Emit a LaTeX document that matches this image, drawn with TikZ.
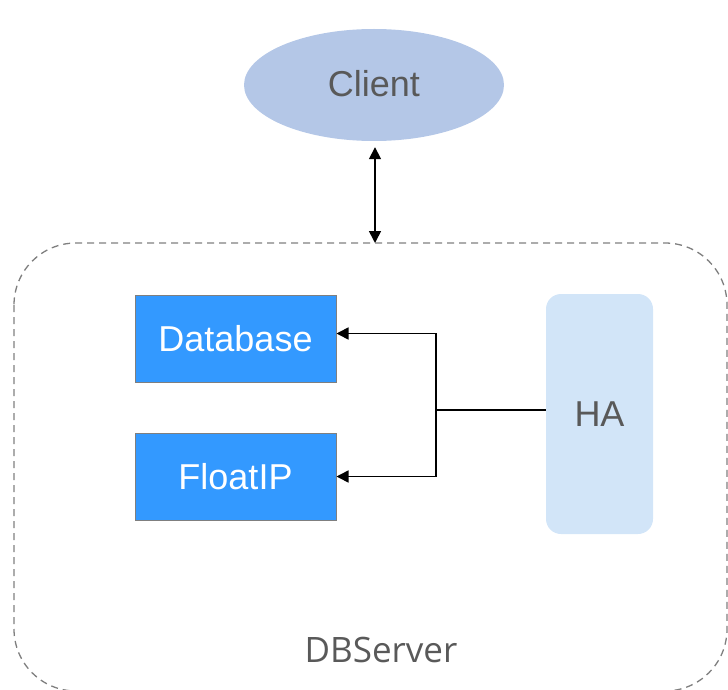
\documentclass[tikz,border=0pt]{standalone}
\usepackage{fontspec}
\setmainfont{Liberation Sans}
\newfontfamily\labelfont{Open Sans}
\usetikzlibrary{shapes.geometric,arrows.meta}
\definecolor{clientfill}{HTML}{B4C7E7}
\definecolor{txtgray}{HTML}{595959}
\definecolor{dbfill}{HTML}{3399FF}
\definecolor{hafill}{HTML}{D2E5F8}
\definecolor{dashgray}{HTML}{7F7F7F}
\begin{document}
\begin{tikzpicture}[x=1pt,y=-1pt,
  bigtext/.style={font=\fontsize{36}{40}\selectfont},
  bluebox/.style={draw=dashgray,line width=1pt,fill=dbfill,minimum width=201pt,minimum height=87pt,inner sep=0pt,text=white,bigtext},
  conn/.style={line width=1.6pt,draw=black},
  tip/.style={-{Triangle[width=12pt,length=12pt]}}
]
\useasboundingbox (0,0) rectangle (728,690);
\draw[dashgray,line width=1.3pt,dash pattern=on 7pt off 5pt,rounded corners=62pt] (14,243) rectangle (727,691);
\node[ellipse,fill=clientfill,minimum width=260pt,minimum height=112pt,inner sep=0pt,text=txtgray,bigtext] (client) at (374,85) {\raisebox{4pt}{Client}};
\coordinate (top) at (375,243);
\draw[conn,{Triangle[width=12pt,length=12pt]}-{Triangle[width=12pt,length=12pt]}] ([yshift=-6pt]client.south -| top) -- (top);
\node[bluebox] (db) at (235.5,338.5) {Database};
\node[bluebox] (fip) at (235.5,476.5) {FloatIP};
\node[draw=none,fill=hafill,rounded corners=15pt,minimum width=107pt,minimum height=240pt,inner sep=0pt,text=txtgray,bigtext] (ha) at (599.5,414) {HA};
\coordinate (j) at (436,410);
\draw[conn] (ha.west |- j) -- (j);
\draw[conn,tip] (j) |- ([yshift=5pt]db.east);
\draw[conn,tip] (j) |- (fip.east);
\node[font=\labelfont\fontsize{35}{40}\selectfont,text=txtgray] (dbs) at (381,650) {DBServer};
\end{tikzpicture}
\end{document}
